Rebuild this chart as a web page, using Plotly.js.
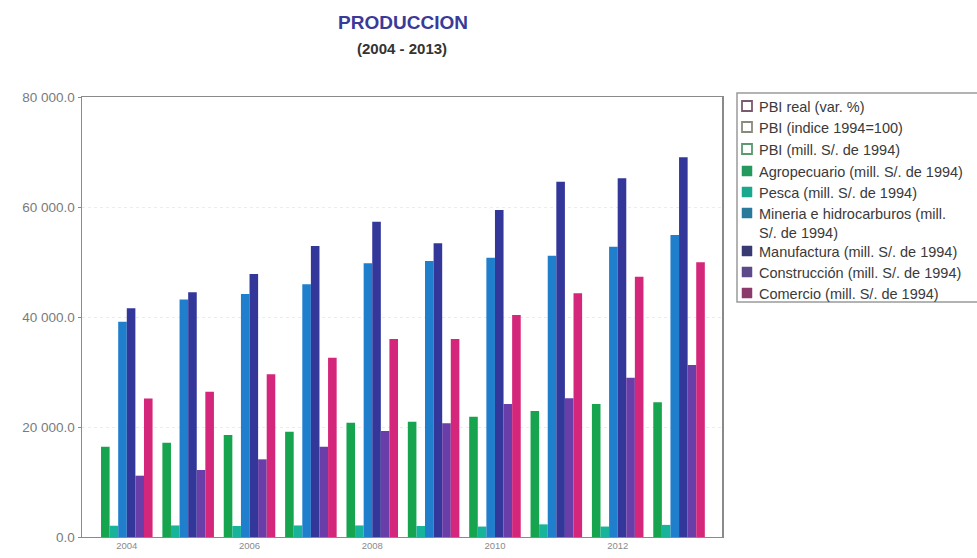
<!DOCTYPE html>
<html>
<head>
<meta charset="utf-8">
<script src="https://cdn.plot.ly/plotly-3.0.1.min.js"></script>
<style>
html,body{margin:0;padding:0;background:#fff;}
#chart{width:977px;height:558px;}
</style>
</head>
<body>
<div id="chart"></div>
<script>
const years = [2004, 2005, 2006, 2007, 2008, 2009, 2010, 2011, 2012, 2013];
const tickYears = [2004, 2006, 2008, 2010, 2012];

// Series with no visible bars in the reference (legend only)
const pbiReal = [null, null, null, null, null, null, null, null, null, null];
const pbiIndice = [null, null, null, null, null, null, null, null, null, null];
const pbiMill = [null, null, null, null, null, null, null, null, null, null];
// Values in millions of S/. of 1994
const agropecuario = [16400, 17150, 18540, 19150, 20780, 20960, 21870, 22900, 24180, 24480];
const pesca = [2050, 2100, 2000, 2100, 2100, 2000, 1900, 2300, 1900, 2200];
const mineria = [39140, 43200, 44180, 45940, 49760, 50180, 50780, 51140, 52780, 54900];
const manufactura = [41580, 44490, 47800, 52900, 57320, 53400, 59450, 64600, 65210, 69030];
const construccion = [11150, 12180, 14120, 16420, 19270, 20670, 24180, 25210, 28970, 31270];
const comercio = [25200, 26420, 29580, 32600, 36000, 36000, 40360, 44300, 47320, 49940];

const seriesNames = [
  'PBI real (var. %)',
  'PBI (indice 1994=100)',
  'PBI (mill. S/. de 1994)',
  'Agropecuario (mill. S/. de 1994)',
  'Pesca (mill. S/. de 1994)',
  'Mineria e hidrocarburos (mill.<br>S/. de 1994)',
  'Manufactura (mill. S/. de 1994)',
  'Construcción (mill. S/. de 1994)',
  'Comercio (mill. S/. de 1994)'
];
const seriesValues = [pbiReal, pbiIndice, pbiMill, agropecuario, pesca, mineria, manufactura, construccion, comercio];
const barColors = ['#7a5a70', '#8a8a7c', '#5a9a70', '#17a44e', '#17b39a', '#1f7fcc', '#33379a', '#6a3ea8', '#d4267a'];
const legendColors = ['#7a5a70', '#8a8a7c', '#5a9a70', '#239a5e', '#1aa88e', '#2a7a9c', '#3a3a72', '#5c4a8a', '#8c3a6c'];
const legendOpen = [true, true, true, false, false, false, false, false, false];

const data = seriesValues.map((vals, i) => ({
  type: 'bar', name: seriesNames[i], x: years, y: vals,
  marker: {color: barColors[i], line: {width: 0}},
  showlegend: false
})).filter((t, i) => !legendOpen[i]);

// plot-area pixel geometry
const L = 82, R = 722, T = 97, B = 537;
const px = x => (x - L) / (R - L);
const py = y => (B - y) / (B - T);

const FONT = 'Liberation Sans, Arial, sans-serif';
const shapes = [];
const annotations = [];

// legend box
shapes.push({type: 'rect', xref: 'paper', yref: 'paper',
  x0: px(737), x1: px(990), y0: py(302), y1: py(93),
  line: {color: '#9a9a9a', width: 1.5}, fillcolor: 'rgba(0,0,0,0)'});

const rowY = [106, 127, 149, 171, 192, 213, 251, 272, 293];
seriesNames.forEach((nm, i) => {
  const cy = rowY[i];
  const open = legendOpen[i];
  shapes.push({type: 'rect', xref: 'paper', yref: 'paper',
    x0: px(742), x1: px(752), y0: py(cy + 5), y1: py(cy - 5),
    line: {color: legendColors[i], width: open ? 1.8 : 0.5},
    fillcolor: open ? '#ffffff' : legendColors[i]});
  annotations.push({xref: 'paper', yref: 'paper', x: px(757), y: py(cy - 9),
    xanchor: 'left', yanchor: 'top', align: 'left', showarrow: false,
    text: nm, font: {size: 14.5, color: '#3a3a3a', family: FONT}});
});

// subtitle
annotations.push({xref: 'paper', yref: 'paper', x: px(402), y: py(49),
  xanchor: 'center', yanchor: 'middle', showarrow: false,
  text: '<b>(2004 - 2013)</b>', font: {size: 15, color: '#333', family: FONT}});

const layout = {
  width: 977, height: 558,
  margin: {l: L, r: 977 - R, t: T, b: 558 - B},
  paper_bgcolor: '#fff', plot_bgcolor: '#fff',
  separators: '. ',
  font: {family: FONT, color: '#444'},
  barmode: 'group', bargap: 0.16, bargroupgap: 0,
  showlegend: false,
  title: {
    text: '<b>PRODUCCION</b>',
    font: {size: 19, color: '#3a3a99', family: FONT},
    x: px(403), xref: 'paper', xanchor: 'center', yref: 'container', y: 1 - 22 / 558, yanchor: 'middle'
  },
  xaxis: {
    type: 'linear', range: [2003.27, 2013.7],
    tickvals: tickYears, ticktext: tickYears.map(String),
    ticks: '', showgrid: false, zeroline: false,
    showline: true, linecolor: '#8a8a8a', linewidth: 1, mirror: true,
    tickfont: {size: 9.5, color: '#8a8a8a'}
  },
  yaxis: {
    range: [0, 80000], tickvals: [0, 20000, 40000, 60000, 80000],
    tickformat: ',.1f',
    ticks: 'outside', ticklen: 3, tickcolor: '#8a8a8a',
    showgrid: true, gridcolor: '#ececec', griddash: 'dot', gridwidth: 1,
    zeroline: false, showline: true, linecolor: '#8a8a8a', linewidth: 1.5, mirror: true,
    tickfont: {size: 13.5, color: '#7a7a7a'}
  },
  shapes: shapes,
  annotations: annotations
};

Plotly.newPlot('chart', data, layout, {displayModeBar: false, staticPlot: true});
</script>
</body>
</html>
